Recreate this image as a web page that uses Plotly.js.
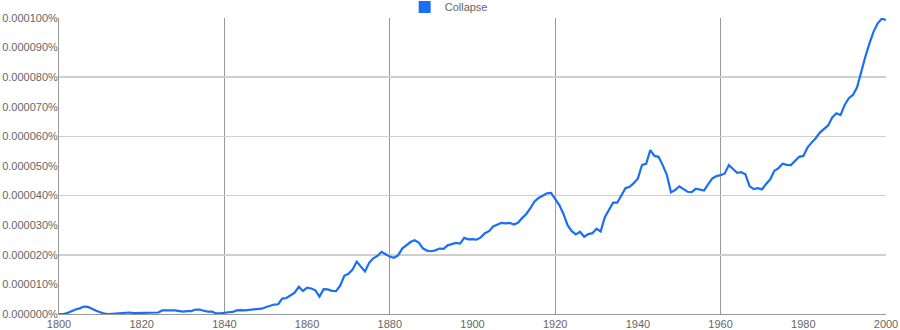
<!DOCTYPE html>
<html>
<head>
<meta charset="utf-8">
<script src="https://cdn.plot.ly/plotly-3.0.1.min.js"></script>
<style>
  html, body { margin: 0; padding: 0; background: #fff; }
  #chart { width: 900px; height: 330px; }
</style>
</head>
<body>
<div id="chart"></div>
<script>
// Years 1800..2000
const years = [];
for (let y = 1800; y <= 2000; y++) years.push(y);

// Frequency of "Collapse", in millionths of a percent (0.000001%)
const collapseMillionthsPct = [
  0, 0, 0.3, 1.0, 1.5, 1.9, 2.5, 2.4, 1.7, 1.1,           // 1800-1809
  0.6, 0.1, 0, 0.1, 0.3, 0.3, 0.4, 0.5, 0.3, 0.3,         // 1810-1819
  0.3, 0.3, 0.4, 0.5, 0.5, 1.2, 1.3, 1.2, 1.2, 1.1,       // 1820-1829
  0.8, 1.0, 1.0, 1.5, 1.5, 1.1, 0.8, 0.8, 0.2, 0.2,       // 1830-1839
  0.5, 0.6, 0.7, 1.2, 1.3, 1.2, 1.4, 1.5, 1.6, 1.8,       // 1840-1849
  2.3, 2.8, 3.2, 3.3, 5.2, 5.4, 6.2, 7.2, 9.2, 7.8,       // 1850-1859
  8.9, 8.6, 8.0, 5.9, 8.4, 8.3, 7.8, 7.7, 9.6, 12.9,      // 1860-1869
  13.6, 15.0, 17.7, 16.1, 14.4, 17.3, 18.8, 19.6, 21.0, 20.2, // 1870-1879
  19.4, 19.0, 19.8, 22.1, 23.2, 24.3, 24.9, 24.1, 22.2, 21.4, // 1880-1889
  21.2, 21.5, 22.1, 22.0, 23.2, 23.5, 24.0, 23.8, 25.7, 25.2, // 1890-1899
  25.3, 25.1, 25.9, 27.3, 28.0, 29.6, 30.2, 30.8, 30.6, 30.8, // 1900-1909
  30.2, 30.8, 32.4, 33.8, 35.8, 38.0, 39.2, 40.0, 40.8, 40.9, // 1910-1919
  39.0, 36.8, 33.8, 30.0, 28.0, 26.9, 27.8, 26.1, 27.0, 27.3, // 1920-1929
  28.8, 27.9, 32.7, 35.4, 37.6, 37.6, 39.9, 42.5, 43.0, 44.2, // 1930-1939
  45.8, 50.4, 50.7, 55.4, 53.4, 53.1, 50.3, 47.0, 41.1, 41.9, // 1940-1949
  43.1, 42.1, 41.3, 41.2, 42.3, 42.0, 41.7, 43.9, 45.8, 46.6, // 1950-1959
  46.9, 47.5, 50.3, 49.0, 47.7, 47.9, 47.2, 43.2, 42.2, 42.5, // 1960-1969
  42.1, 43.9, 45.5, 48.4, 49.3, 50.8, 50.4, 50.3, 51.8, 53.1, // 1970-1979
  53.4, 56.2, 57.9, 59.4, 61.3, 62.4, 63.7, 66.4, 67.8, 67.2, // 1980-1989
  70.6, 72.9, 74.0, 76.6, 81.9, 86.9, 91.4, 95.4, 98.2, 99.8, // 1990-1999
  99.3                                                      // 2000
];
const collapsePct = collapseMillionthsPct.map(v => v * 1e-6);

const seriesName = "Collapse";
const lineColor = "#1a6ff3";
const textColor = "#666666";
const fontFam = "Liberation Sans, Arial, sans-serif";

const traces = [
  // invisible carrier for the labelled base axes
  { x: years, y: collapsePct, xaxis: "x", yaxis: "y", mode: "lines",
    line: { width: 0, color: "rgba(0,0,0,0)" }, showlegend: false, hoverinfo: "skip" },
  // legend swatch (square)
  { type: "bar", x: [null], y: [null], name: seriesName, marker: { color: lineColor },
    xaxis: "x2", yaxis: "y2", showlegend: true, hoverinfo: "skip" },
  // the data line on the gridded overlay axes
  { x: years, y: collapsePct, xaxis: "x2", yaxis: "y2", mode: "lines", name: seriesName,
    line: { color: lineColor, width: 2.2, shape: "linear" }, showlegend: false }
];

const xr = [1800, 2000];
const yr = [0, 0.0001];

const layout = {
  width: 900, height: 330,
  margin: { l: 59, r: 14, t: 18, b: 16, pad: 0, autoexpand: false },
  paper_bgcolor: "#ffffff", plot_bgcolor: "#ffffff",
  font: { family: fontFam, size: 11, color: textColor },
  showlegend: true,
  legend: {
    orientation: "h", xref: "paper", yref: "paper",
    x: 0.418, xanchor: "left", y: 1.086, yanchor: "top",
    font: { family: fontFam, size: 11, color: textColor },
    itemwidth: 30, bgcolor: "rgba(0,0,0,0)", tracegroupgap: 0
  },
  xaxis: {
    range: xr, dtick: 20, tick0: 1800, showgrid: false, zeroline: false,
    showline: true, linecolor: "#999999", linewidth: 1, ticks: "",
    tickfont: { family: fontFam, size: 11, color: textColor }, fixedrange: true
  },
  yaxis: {
    range: yr, dtick: 0.00001, tick0: 0, showgrid: false, zeroline: false,
    showline: true, linecolor: "#999999", linewidth: 1, ticks: "",
    tickformat: ".6f", ticksuffix: "%", ticklabelstandoff: -2,
    tickfont: { family: fontFam, size: 11, color: textColor }, fixedrange: true
  },
  xaxis2: {
    overlaying: "x", range: xr, dtick: 40, tick0: 1800, showgrid: true,
    gridcolor: "#999999", gridwidth: 1, showticklabels: false, zeroline: false,
    showline: false, ticks: "", fixedrange: true
  },
  yaxis2: {
    overlaying: "y", range: yr, dtick: 0.00002, tick0: 0, showgrid: true,
    gridcolor: "#cfcfcf", gridwidth: 1.5, showticklabels: false, zeroline: false,
    showline: false, ticks: "", fixedrange: true
  }
};

Plotly.newPlot("chart", traces, layout, { displayModeBar: false, staticPlot: true });
</script>
</body>
</html>
